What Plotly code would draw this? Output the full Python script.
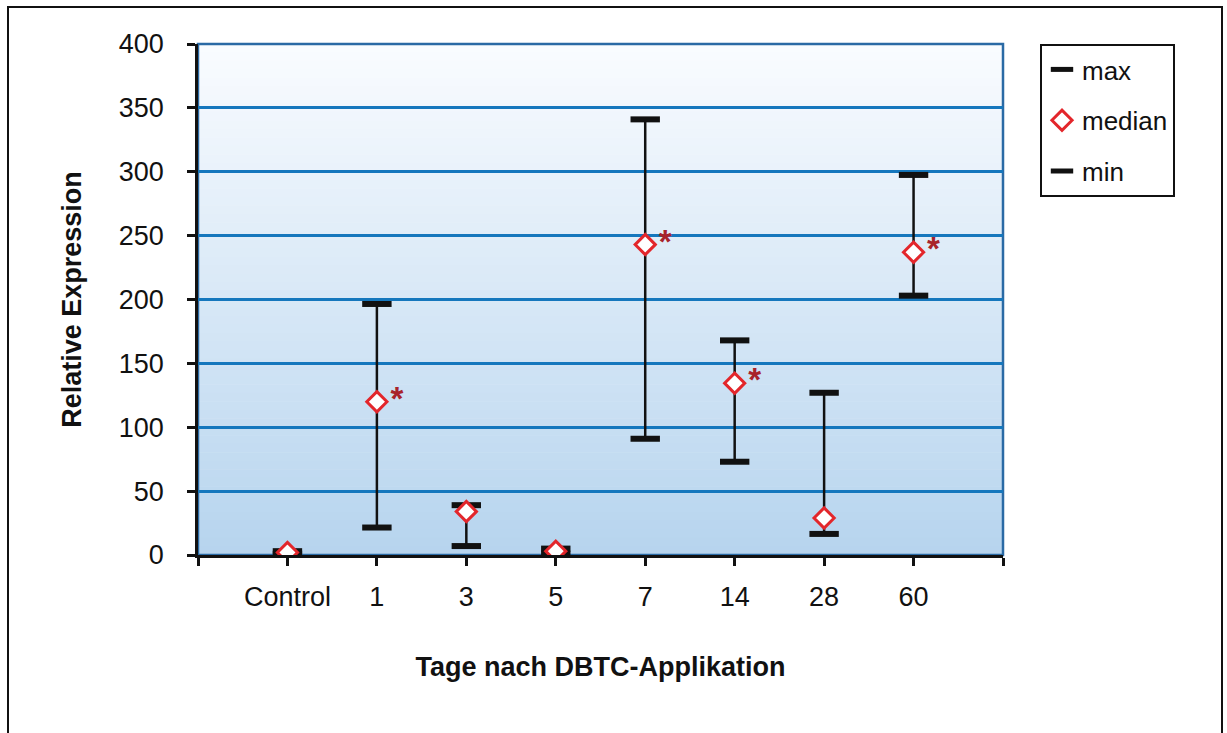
import plotly.graph_objects as go

# ---- data ----
categories = ["Control", "1", "3", "5", "7", "14", "28", "60"]
max_vals = [3, 196.5, 39, 5, 341, 168, 127, 297.5]
median_vals = [2, 120, 34, 3, 243, 134.5, 29, 237]
min_vals = [1, 21.5, 7, 1, 91, 73, 16.5, 203]
significant = [False, True, False, False, True, True, False, True]
y_ticks = [0, 50, 100, 150, 200, 250, 300, 350, 400]

x_pos = list(range(1, len(categories) + 1))
n_slots = len(categories) + 1

W, H = 1227, 733
L, R, T, B = 198, 224, 44, 178
pw, ph = W - L - R, H - T - B

fig = go.Figure()

# high-low connector lines
lx, ly = [], []
for x, lo, hi in zip(x_pos, min_vals, max_vals):
    lx += [x, x, None]
    ly += [lo, hi, None]
fig.add_trace(go.Scatter(x=lx, y=ly, mode="lines", line=dict(color="#111111", width=2.5),
                         showlegend=False, hoverinfo="skip"))

cap = dict(symbol="line-ew", size=21, line=dict(color="#111111", width=6), color="#111111")
fig.add_trace(go.Scatter(x=x_pos, y=max_vals, mode="markers", name="max", marker=cap,
                         legendgroup="a", legendrank=1))
fig.add_trace(go.Scatter(x=x_pos, y=min_vals, mode="markers", name="min", marker=cap,
                         legendgroup="c", legendrank=3))
fig.add_trace(go.Scatter(x=x_pos, y=median_vals, mode="markers", name="median",
                         marker=dict(symbol="diamond", size=15.5, color="white",
                                     line=dict(color="#e3262b", width=3)),
                         legendgroup="b", legendrank=2))

# significance stars
sx = [x for x, s in zip(x_pos, significant) if s]
sy = [m for m, s in zip(median_vals, significant) if s]
fig.add_trace(go.Scatter(x=sx, y=sy, mode="markers+text", text=["<b>*</b>"] * len(sx),
                         textposition="middle right",
                         marker=dict(size=20, color="rgba(0,0,0,0)"),
                         textfont=dict(family="Liberation Sans", size=33, color="#a8232a"),
                         showlegend=False, hoverinfo="skip"))

# gradient background stripes
shapes = []
n = 60
top = (250, 252, 255)
bot = (182, 212, 238)
for i in range(n):
    t = (i + 0.5) / n
    c = tuple(round(top[k] + (bot[k] - top[k]) * t) for k in range(3))
    shapes.append(dict(type="rect", xref="x domain", yref="y domain",
                       x0=0, x1=1, y0=1 - (i + 1) / n, y1=1 - i / n + 0.001,
                       fillcolor="rgb(%d,%d,%d)" % c, line=dict(width=0), layer="below"))
# blue plot border (top/right)
shapes.append(dict(type="rect", xref="x domain", yref="y domain", x0=0, x1=1, y0=0, y1=1,
                   line=dict(color="#2a6aa5", width=2.5), fillcolor="rgba(0,0,0,0)",
                   layer="below"))
# outer frame
shapes.append(dict(type="rect", xref="paper", yref="paper",
                   x0=(8 - L) / pw, x1=(1222 - L) / pw,
                   y0=(H - B - 745) / ph, y1=(H - B - 7) / ph,
                   line=dict(color="#111111", width=2), fillcolor="rgba(0,0,0,0)"))

fig.update_layout(
    width=W, height=H, autosize=False,
    margin=dict(l=L, r=R, t=T, b=B),
    paper_bgcolor="white", plot_bgcolor="rgba(0,0,0,0)",
    shapes=shapes,
    font=dict(family="Liberation Sans", color="#111111"),
    legend=dict(x=(1040 - L) / pw, y=1.0, xanchor="left", yanchor="top",
                bordercolor="#111111", borderwidth=2, bgcolor="white",
                font=dict(family="Liberation Sans", size=26, color="#111111"),
                tracegroupgap=14, itemsizing="trace"),
    xaxis=dict(range=[0, n_slots], tickmode="array", tickvals=list(range(0, n_slots + 1)),
               ticktext=[""] + categories + [""], showgrid=False, zeroline=False,
               showline=True, linecolor="#111111", linewidth=2.5,
               ticks="outside", ticklen=8, tickwidth=2.5, tickcolor="#111111",
               tickfont=dict(size=27, family="Liberation Sans", color="#111111"),
               ticklabelstandoff=8,
               title=dict(text="<b>Tage nach DBTC-Applikation</b>", standoff=46,
                          font=dict(size=27, family="Liberation Sans", color="#111111"))),
    yaxis=dict(range=[0, 400], tickmode="array", tickvals=y_ticks,
               showgrid=True, gridcolor="#1577bd", gridwidth=2.5, zeroline=False,
               showline=True, linecolor="#111111", linewidth=2.5,
               ticks="outside", ticklen=8, tickwidth=2.5, tickcolor="#111111",
               tickfont=dict(size=27, family="Liberation Sans", color="#111111"),
               ticklabelstandoff=18,
               title=dict(text="<b>Relative Expression</b>", standoff=30,
                          font=dict(size=27, family="Liberation Sans", color="#111111"))),
)

fig.write_html("out.html", config={"displayModeBar": False},
               post_script="document.body.style.margin='0';")
